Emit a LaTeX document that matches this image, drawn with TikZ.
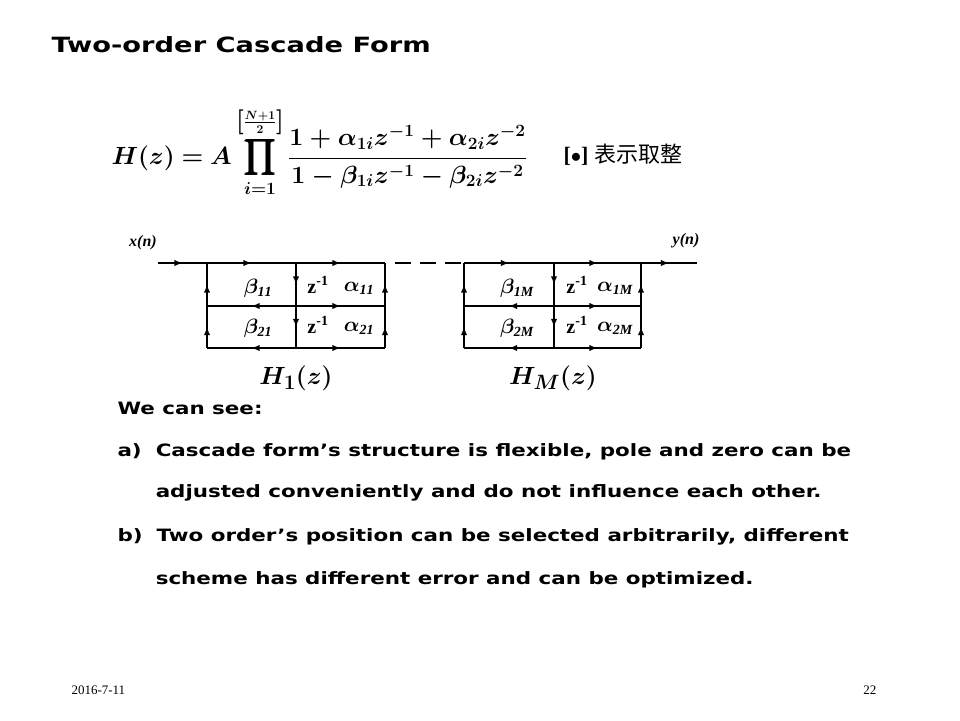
\documentclass[tikz,border=0pt]{standalone}
\usepackage{amsmath,bm}
\usepackage{fontspec}
\setmainfont{Liberation Serif}
\newfontfamily\ttl[FakeStretch=1.26]{DejaVu Sans}
\newfontfamily\ttt[FakeStretch=1.3]{DejaVu Sans}
\newfontfamily\cjk{Noto Sans CJK SC}
\usetikzlibrary{decorations.markings}
\begin{document}
\begin{tikzpicture}[x=1pt,y=-1pt,
  ln/.style={line width=1.8pt},
  mid/.style={ln,decoration={markings,mark=at position 0.5 with {\arrow{latex}}},postaction={decorate}},
  lbl/.style={font=\bfseries\fontsize{20}{20}\selectfont},
  txt/.style={font=\ttl\bfseries\fontsize{17}{17}\selectfont,anchor=west}]
\useasboundingbox (0,0) rectangle (960,720);
\node[anchor=west,font=\ttt\bfseries\fontsize{21}{21}\selectfont] (title) at (48,45) {Two-order Cascade Form};
\node[anchor=west,font=\bfseries\fontsize{25}{25}\selectfont] (eq) at (108,152)
 {$\displaystyle\bm{H(z)=A\prod_{i=1}^{\raisebox{3pt}{$\scriptstyle\left[\frac{N+1}{2}\right]$}}\frac{1+\alpha_{1i}z^{-1}+\alpha_{2i}z^{-2}}{1-\beta_{1i}z^{-1}-\beta_{2i}z^{-2}}}$};
\node[anchor=west,font=\fontsize{22}{22}\selectfont] (note) at (560,155) {\textbf{[$\bullet$]} {\cjk 表示取整}};
% coordinates
\foreach \n/\x in {a/207,b/296,c/385,d/464,e/554,f/641}{
  \coordinate (\n1) at (\x,263); \coordinate (\n2) at (\x,306); \coordinate (\n3) at (\x,348);}
\coordinate (in) at (158,263); \coordinate (out) at (697,263);
\node[font=\bfseries\itshape\fontsize{16}{16}\selectfont] (xn) at (143,243) {x(n)};
\node[font=\bfseries\itshape\fontsize{16}{16}\selectfont] (yn) at (686,241) {y(n)};
\foreach \p/\q in {in/a1,a1/b1,b1/c1,d1/e1,e1/f1,f1/out,b2/c2,b3/c3,e2/f2,e3/f3,b2/a2,b3/a3,e2/d2,e3/d3,a3/a2,a2/a1,c3/c2,c2/c1,d3/d2,d2/d1,f3/f2,f2/f1,b1/b2,b2/b3,e1/e2,e2/e3}
  \draw[mid] (\p) -- (\q);
\draw[ln,dash pattern=on 0pt off 10pt on 16pt off 9pt on 16pt off 9pt on 16pt off 20pt] (c1) -- (d1);
% labels
\node[lbl] (b11) at (258,288) {$\bm{\beta_{\mathit{11}}}$};
\node[lbl] (z1) at (318,285) {z$^{\text{-1}}$};
\node[lbl] (a11) at (359,288) {$\bm{\alpha_{\mathit{11}}}$};
\node[lbl] (b21) at (258,328) {$\bm{\beta_{\mathit{21}}}$};
\node[lbl] (z2) at (318,325) {z$^{\text{-1}}$};
\node[lbl] (a21) at (359,328) {$\bm{\alpha_{\mathit{21}}}$};
\node[lbl] (b1M) at (517,288) {$\bm{\beta_{\mathit{1M}}}$};
\node[lbl] (z3) at (577,285) {z$^{\text{-1}}$};
\node[lbl] (a1M) at (615,288) {$\bm{\alpha_{\mathit{1M}}}$};
\node[lbl] (b2M) at (517,328) {$\bm{\beta_{\mathit{2M}}}$};
\node[lbl] (z4) at (577,325) {z$^{\text{-1}}$};
\node[lbl] (a2M) at (615,328) {$\bm{\alpha_{\mathit{2M}}}$};
\node[font=\fontsize{28}{28}\selectfont] (h1) at (296,378) {$\bm{H_1(z)}$};
\node[font=\fontsize{28}{28}\selectfont] (hm) at (553,378) {$\bm{H_M(z)}$};
% text
\node[txt] (t0) at (114,408) {We can see:};
\node[txt] (t1) at (114,452) {a)\hspace{14pt}Cascade form’s structure is flexible, pole and zero can be};
\node[txt] (t2) at (114,493) {\hphantom{a)}\hspace{14pt}adjusted conveniently and do not influence each other.};
\node[txt] (t3) at (114,537) {b)\hspace{14pt}Two order’s position can be selected arbitrarily, different};
\node[txt] (t4) at (114,580) {\hphantom{a)}\hspace{14pt}scheme has different error and can be optimized.};
\node[anchor=west,font=\fontsize{13}{13}\selectfont] (date) at (68,690) {2016-7-11};
\node[anchor=east,font=\fontsize{13}{13}\selectfont] (pg) at (880,690) {22};
\end{tikzpicture}
\end{document}
